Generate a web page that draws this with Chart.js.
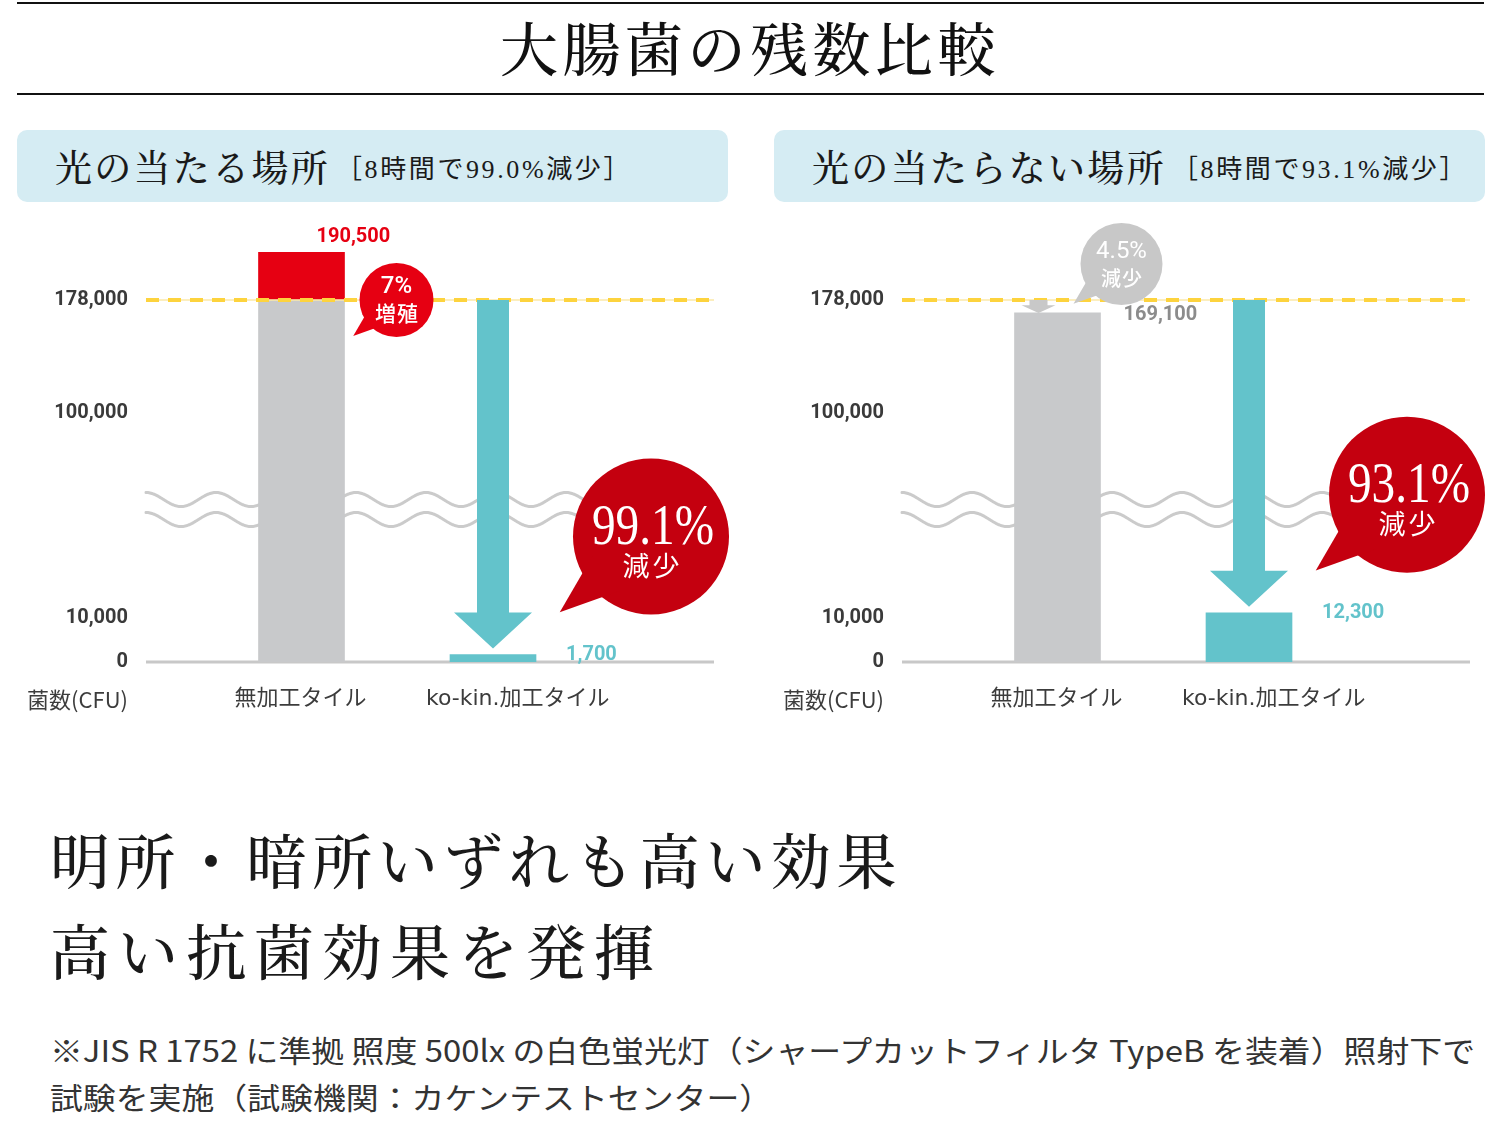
<!DOCTYPE html>
<html lang="ja">
<head>
<meta charset="utf-8">
<script src="https://cdn.jsdelivr.net/npm/chart.js"></script>
<style>
  html, body { margin: 0; padding: 0; background: #fff; }
  #page { position: relative; width: 1500px; height: 1121px; overflow: hidden; background: #fff; }
  .rule { position: absolute; left: 17px; width: 1467px; height: 2px; background: #111; }
  #title { position: absolute; left: 0; width: 1500px; top: 16px; text-align: center;
    font-family: "Noto Serif CJK JP", "Noto Sans CJK JP", serif; font-weight: 500; font-size: 58px; line-height: 60px; color: #111; white-space: nowrap; }
  #title span { display: inline-block; }
  .hdr { position: absolute; top: 130px; width: 711px; height: 72px; background: #d5ecf3; border-radius: 10px; }
  .ht { position: absolute; left: 38px; top: 17px; display: inline-block; white-space: nowrap;
    font-family: "Noto Serif CJK JP", "Noto Sans CJK JP", serif; font-weight: 500; font-size: 37px; line-height: 38px; color: #1a1a1a; }
  .hn { position: absolute; top: 27px; display: inline-block; white-space: nowrap;
    font-family: "Liberation Serif", "Noto Sans CJK JP", serif; font-size: 26px; line-height: 26px; color: #1a1a1a; }
  canvas { position: absolute; }
  .head { position: absolute; left: 50px; display: inline-block; white-space: nowrap;
    font-family: "Noto Serif CJK JP", "Noto Sans CJK JP", serif; font-weight: 500; font-size: 60px; line-height: 62px; color: #1a1a1a; }
  .note { position: absolute; left: 50px; display: inline-block; white-space: nowrap; transform-origin: left top;
    font-family: "Noto Sans CJK JP", sans-serif; font-size: 30px; line-height: 30px; color: #333; }
</style>
</head>
<body>
<div id="page">
  <div class="rule" style="top:2px"></div>
  <div id="title"><span id="titleText"></span></div>
  <div class="rule" style="top:93px"></div>
  <div class="hdr" id="hdr0" style="left:17px"><span class="ht"></span><span class="hn"></span></div>
  <div class="hdr" id="hdr1" style="left:774px"><span class="ht"></span><span class="hn"></span></div>
  <canvas id="chartLit" width="744" height="520" style="left:0px; top:212px"></canvas>
  <canvas id="chartDark" width="744" height="520" style="left:756px; top:212px"></canvas>
  <span class="head" id="head0" style="top:827px"></span>
  <span class="head" id="head1" style="top:918px"></span>
  <span class="note" id="note0" style="top:1034px"></span>
  <span class="note" id="note1" style="top:1081px"></span>
</div>
<script>
// ---------------- data ----------------
const chartTitle = '大腸菌の残数比較';
const panelTitles = ['光の当たる場所', '光の当たらない場所'];
const panelNotes = ['［8時間で99.0%減少］', '［8時間で93.1%減少］'];
const categories = ['無加工タイル', 'ko-kin.加工タイル'];
const yAxisTitle = '菌数(CFU)';
const initialCount = 178000;
const litCounts = [190500, 1700];
const darkCounts = [169100, 12300];
const yTickValues = [0, 10000, 100000, 178000];
const litBubbleText = [['7%', '増殖'], ['99.1%', '減少']];
const darkBubbleText = [['4.5%', '減少'], ['93.1%', '減少']];
const headlines = ['明所・暗所いずれも高い効果', '高い抗菌効果を発揮'];
const notes = ['※JIS R 1752 に準拠 照度 500lx の白色蛍光灯（シャープカットフィルタ TypeB を装着）照射下で',
               '試験を実施（試験機関：カケンテストセンター）'];

// ---------------- broken (piecewise) value axis ----------------
// [value, relative height] breakpoints of the schematic axis (break between 10,000 and 100,000)
const yAxisBreaks = [[0, 0], [10000, 44], [100000, 249], [178000, 362], [195000, 427]];

class BrokenLinearScale extends Chart.LinearScale {
  static id = 'brokenLinear';
  static defaults = Chart.LinearScale.defaults;
  _toHeight(v) {
    const A = yAxisBreaks;
    if (v <= A[0][0]) return A[0][1];
    for (let i = 1; i < A.length; i++) {
      if (v <= A[i][0]) {
        const [v0, p0] = A[i - 1], [v1, p1] = A[i];
        return p0 + (v - v0) / (v1 - v0) * (p1 - p0);
      }
    }
    const [v0, p0] = A[A.length - 2], [v1, p1] = A[A.length - 1];
    return p1 + (v - v1) / (v1 - v0) * (p1 - p0);
  }
  getPixelForValue(value) {
    const total = yAxisBreaks[yAxisBreaks.length - 1][1];
    return this.getPixelForDecimal(this._toHeight(+value) / total);
  }
  getValueForPixel(pixel) {
    const A = yAxisBreaks;
    const h = this.getDecimalForPixel(pixel) * A[A.length - 1][1];
    for (let i = 1; i < A.length; i++) {
      if (h <= A[i][1]) {
        const [v0, p0] = A[i - 1], [v1, p1] = A[i];
        return v0 + (h - p0) / (p1 - p0) * (v1 - v0);
      }
    }
    return A[A.length - 1][0];
  }
}
Chart.register(BrokenLinearScale);

// ---------------- styles ----------------
const GRAY = '#c8c9cb', TEAL = '#63c3cb', RED = '#e60012', DEEP_RED = '#c4000f', GRAY_BUBBLE = '#c8c8c8';
const JP = '"Noto Sans CJK JP"';
const fmt = v => v.toLocaleString('en-US');

function txt(ctx, s, x, y, font, color, align, base, maxW) {
  ctx.font = font; ctx.fillStyle = color; ctx.textAlign = align || 'center'; ctx.textBaseline = base || 'middle';
  if (maxW) ctx.fillText(s, x, y, maxW); else ctx.fillText(s, x, y);
}
function spaced(ctx, s, cx, y, font, color, step) {
  const ch = [...s];
  ch.forEach((c, i) => txt(ctx, c, cx + (i - (ch.length - 1) / 2) * step, y, font, color));
}
function bubble(ctx, cx, cy, r, color) {
  const tipX = cx - 1.17 * r, tipY = cy + 0.97 * r;
  const ang = Math.atan2(tipY - cy, tipX - cx), sp = 0.36;
  ctx.fillStyle = color;
  ctx.beginPath(); ctx.arc(cx, cy, r, 0, Math.PI * 2); ctx.fill();
  ctx.beginPath();
  ctx.moveTo(cx + 0.8 * r * Math.cos(ang - sp), cy + 0.8 * r * Math.sin(ang - sp));
  ctx.lineTo(tipX, tipY);
  ctx.lineTo(cx + 0.8 * r * Math.cos(ang + sp), cy + 0.8 * r * Math.sin(ang + sp));
  ctx.closePath(); ctx.fill();
}
function arrow(ctx, x, y1, y2, shaftW, headW, headL, color) {
  const hl = Math.min(headL, (y2 - y1) * 0.6);
  ctx.fillStyle = color;
  ctx.beginPath();
  ctx.moveTo(x - shaftW / 2, y1); ctx.lineTo(x + shaftW / 2, y1);
  ctx.lineTo(x + shaftW / 2, y2 - hl); ctx.lineTo(x + headW / 2, y2 - hl);
  ctx.lineTo(x, y2); ctx.lineTo(x - headW / 2, y2 - hl);
  ctx.lineTo(x - shaftW / 2, y2 - hl); ctx.closePath(); ctx.fill();
}

const decorations = {
  id: 'decorations',
  beforeDatasetsDraw(chart, args, o) {
    const { ctx, chartArea: a, scales: { y } } = chart;
    ctx.save();
    // axis break waves
    const mid = (y.getPixelForValue(10000) + y.getPixelForValue(100000)) / 2;
    ctx.strokeStyle = '#cbcbcb'; ctx.lineWidth = 3; ctx.lineCap = 'round';
    [mid - 16, mid + 4].forEach(c => {
      ctx.beginPath();
      for (let px = a.left; px <= a.right; px += 1) {
        const yy = c - 7 * Math.cos(2 * Math.PI * (px - a.left) / 70);
        if (px === a.left) ctx.moveTo(px, yy); else ctx.lineTo(px, yy);
      }
      ctx.stroke();
    });
    // baseline
    const y0 = y.getPixelForValue(0);
    ctx.lineCap = 'butt'; ctx.strokeStyle = '#c8c8c8'; ctx.lineWidth = 3;
    ctx.beginPath(); ctx.moveTo(a.left, y0); ctx.lineTo(a.right, y0); ctx.stroke();
    ctx.restore();
  },
  afterDatasetsDraw(chart, args, o) {
    const { ctx, chartArea: a, scales: { y } } = chart;
    const bars = chart.getDatasetMeta(0).data;
    const yInit = y.getPixelForValue(o.initial);
    ctx.save();
    // reference (initial count) dashed line
    ctx.strokeStyle = '#fbe9a8'; ctx.lineWidth = 1.5;
    ctx.beginPath(); ctx.moveTo(a.left, yInit); ctx.lineTo(a.right, yInit); ctx.stroke();
    ctx.setLineDash([13, 9]); ctx.strokeStyle = '#fdd33e'; ctx.lineWidth = 4;
    ctx.beginPath(); ctx.moveTo(a.left, yInit); ctx.lineTo(a.right, yInit); ctx.stroke();
    ctx.setLineDash([]);

    o.values.forEach((v, i) => {
      const b = bars[i];
      const right = b.x + b.width / 2;
      const top = y.getPixelForValue(v);
      const [t1, t2] = o.bubbles[i];
      if (v > o.initial) {
        const cx = right + 52, cy = yInit;
        bubble(ctx, cx, cy, 37, RED);
        txt(ctx, t1, cx, cy - 13, '500 24px Roboto', '#fff');
        spaced(ctx, t2, cx, cy + 13, '500 21px ' + JP, '#fff', 22);
        txt(ctx, fmt(v), b.x + 15, top - 10, 'bold 20px Roboto', RED, 'left', 'alphabetic');
      } else if (i === 0) {
        arrow(ctx, b.x - 19, yInit, top, 18, 34, 16, GRAY_BUBBLE);
        const cx = right + 21, cy = yInit - 36;
        bubble(ctx, cx, cy, 41, GRAY_BUBBLE);
        txt(ctx, t1, cx, cy - 12, '400 24px Roboto', '#fff');
        spaced(ctx, t2, cx, cy + 14, '500 20px ' + JP, '#fff', 21);
        txt(ctx, fmt(v), right + 23, top + 2, 'bold 20px Roboto', '#8c8c8c', 'left', 'middle');
      } else {
        arrow(ctx, b.x, yInit, top - 6, 32, 78, 36, TEAL);
        const cx = right + 115, cy = top - 118;
        bubble(ctx, cx, cy, 78, DEEP_RED);
        txt(ctx, t1, cx + 2, cy + 7, '56px "Liberation Serif"', '#fff', 'center', 'alphabetic', 122);
        spaced(ctx, t2, cx, cy + 29, '400 27px ' + JP, '#fff', 30);
        txt(ctx, fmt(v), right + 30, top, 'bold 20px Roboto', TEAL, 'left', 'middle');
      }
    });
    // value-axis title in the category label row
    txt(ctx, yAxisTitle, a.left - 18, a.bottom + 38, '22px ' + JP, '#3c3c3c', 'right', 'middle');
    ctx.restore();
  }
};

function makeChart(id, values, bubbles) {
  return new Chart(document.getElementById(id), {
    type: 'bar',
    data: {
      datasets: [
        {
          label: '8時間後',
          data: values.map((v, i) => ({ x: i + 1, y: [0, Math.min(v, initialCount)] })),
          backgroundColor: [GRAY, TEAL],
          barThickness: 86, grouped: false, borderWidth: 0
        },
        {
          label: '増加分',
          data: values.map((v, i) => (v > initialCount ? { x: i + 1, y: [initialCount, v] } : null)).filter(d => d),
          backgroundColor: RED,
          barThickness: 86, grouped: false, borderWidth: 0
        }
      ]
    },
    options: {
      responsive: false, animation: false,
      layout: { padding: { left: 0, right: 30, top: 23, bottom: 0 } },
      plugins: {
        legend: { display: false }, tooltip: { enabled: false },
        decorations: { initial: initialCount, values: values, bubbles: bubbles }
      },
      scales: {
        x: {
          type: 'linear', min: 0.188, max: 3.154, offset: false,
          grid: { display: false, drawTicks: false }, border: { display: false },
          afterBuildTicks: s => { s.ticks = categories.map((c, i) => ({ value: i + 1 })); },
          afterFit: s => { s.height = 70; s.paddingLeft = 0; s.paddingRight = 0; },
          ticks: {
            autoSkip: false, maxRotation: 0, minRotation: 0, align: 'start', labelOffset: -67, padding: 24,
            color: '#3c3c3c', font: { family: '"DejaVu Sans", ' + JP, size: 22 },
            callback: v => categories[Math.round(v) - 1]
          }
        },
        y: {
          type: 'brokenLinear', min: 0, max: 195000,
          grid: { display: false, drawTicks: false }, border: { display: false },
          afterBuildTicks: s => { s.ticks = yTickValues.map(v => ({ value: v })); },
          afterFit: s => { s.width = 146; s.paddingTop = 0; s.paddingBottom = 0; },
          ticks: {
            padding: 18, color: '#3a3a3a', font: { family: 'Roboto', size: 20, weight: 'bold' },
            callback: v => fmt(v)
          }
        }
      }
    },
    plugins: [decorations]
  });
}

// ---------------- text blocks ----------------
function fitLS(el, target) {
  el.style.letterSpacing = '0px';
  const n = [...el.textContent].length;
  const w = el.getBoundingClientRect().width;
  el.style.letterSpacing = ((target - w) / n) + 'px';
}
const tt = document.getElementById('titleText');
tt.textContent = chartTitle; fitLS(tt, 500);

const htTargets = [275, 354], hnTarget = 296;
[0, 1].forEach(i => {
  const h = document.getElementById('hdr' + i);
  const ht = h.querySelector('.ht'), hn = h.querySelector('.hn');
  ht.textContent = panelTitles[i]; fitLS(ht, htTargets[i]);
  hn.textContent = panelNotes[i]; fitLS(hn, hnTarget);
  hn.style.left = (38 + htTargets[i] + 6) + 'px';
});
const headTargets = [852, 612];
headlines.forEach((s, i) => { const el = document.getElementById('head' + i); el.textContent = s; fitLS(el, headTargets[i]); });
const n0 = document.getElementById('note0'), n1 = document.getElementById('note1');
n0.textContent = notes[0]; n1.textContent = notes[1];
const k = 1425 / n0.getBoundingClientRect().width;
n0.style.transform = n1.style.transform = 'scaleX(' + k + ')';

makeChart('chartLit', litCounts, litBubbleText);
makeChart('chartDark', darkCounts, darkBubbleText);
</script>
</body>
</html>
